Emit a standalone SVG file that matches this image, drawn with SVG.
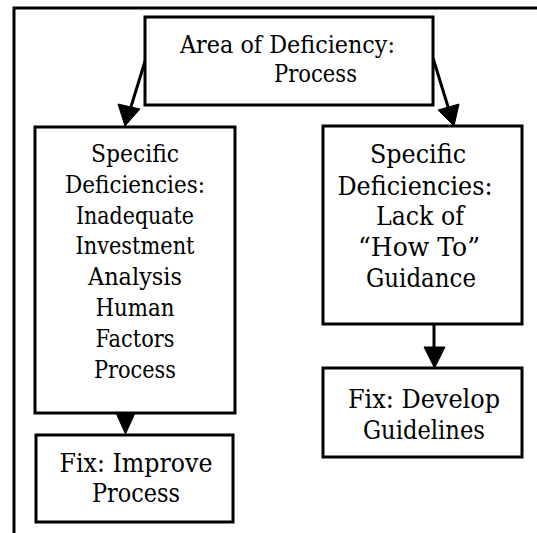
<svg xmlns="http://www.w3.org/2000/svg" width="537" height="533" viewBox="0 0 537 533">
<style>
.box{fill:#fff;stroke:#000;stroke-width:3}
.frame{fill:none;stroke:#000;stroke-width:3}
.t{font-family:'DejaVu Serif',serif;font-size:24.5px;fill:#000;text-anchor:middle}
.tb{font-family:'DejaVu Serif',serif;font-size:26.5px;fill:#000;text-anchor:middle}
.ln{stroke:#000;stroke-width:3;fill:none}
.ah{fill:#000;stroke:#000;stroke-width:1}
</style>
<rect width="537" height="533" fill="#fff"/>
<path class="frame" d="M14,533 V8 H537"/>
<g id="connectors">
<line class="ln" x1="146" y1="58" x2="130" y2="110"/>
<polygon class="ah" points="125,126 118,104 140,109"/>
<line class="ln" x1="433" y1="58" x2="449" y2="110"/>
<polygon class="ah" points="454,126 438,110 459,104"/>
<line class="ln" x1="434" y1="325" x2="434" y2="350"/>
<polygon class="ah" points="424,347 445,347 434.5,368"/>
<polygon class="ah" points="116,413 135,413 125.5,434"/>
</g>
<g id="top">
<rect class="box" x="145" y="17" width="288" height="88"/>
<text class="t" x="287.5" y="53" textLength="215" lengthAdjust="spacingAndGlyphs">Area of Deficiency:</text>
<text class="t" x="315.5" y="82" textLength="83" lengthAdjust="spacingAndGlyphs">Process</text>
</g>
<g id="left">
<rect class="box" x="35" y="127" width="200" height="286"/>
<text class="t" x="135" y="162" textLength="88" lengthAdjust="spacingAndGlyphs">Specific</text>
<text class="t" x="135" y="193" textLength="140" lengthAdjust="spacingAndGlyphs">Deficiencies:</text>
<text class="t" x="135" y="224" textLength="118" lengthAdjust="spacingAndGlyphs">Inadequate</text>
<text class="t" x="135" y="254" textLength="119" lengthAdjust="spacingAndGlyphs">Investment</text>
<text class="t" x="135" y="285" textLength="94" lengthAdjust="spacingAndGlyphs">Analysis</text>
<text class="t" x="135" y="316" textLength="79" lengthAdjust="spacingAndGlyphs">Human</text>
<text class="t" x="135" y="347" textLength="79" lengthAdjust="spacingAndGlyphs">Factors</text>
<text class="t" x="135" y="378" textLength="82" lengthAdjust="spacingAndGlyphs">Process</text>
</g>
<g id="right">
<rect class="box" x="323" y="126" width="199" height="198"/>
<text class="tb" x="418" y="163" textLength="96" lengthAdjust="spacingAndGlyphs">Specific</text>
<text class="tb" x="415" y="195" textLength="155" lengthAdjust="spacingAndGlyphs">Deficiencies:</text>
<text class="tb" x="420" y="225" textLength="88" lengthAdjust="spacingAndGlyphs">Lack of</text>
<text class="tb" x="419" y="256" textLength="122" lengthAdjust="spacingAndGlyphs">“How To”</text>
<text class="tb" x="421" y="287" textLength="110" lengthAdjust="spacingAndGlyphs">Guidance</text>
</g>
<g id="fix-left">
<rect class="box" x="36" y="435" width="197" height="87"/>
<text class="tb" x="136" y="472" textLength="153" lengthAdjust="spacingAndGlyphs">Fix: Improve</text>
<text class="tb" x="136" y="502" textLength="88" lengthAdjust="spacingAndGlyphs">Process</text>
</g>
<g id="fix-right">
<rect class="box" x="323" y="368" width="199" height="89"/>
<text class="tb" x="424" y="408" textLength="152" lengthAdjust="spacingAndGlyphs">Fix: Develop</text>
<text class="tb" x="424" y="439" textLength="122" lengthAdjust="spacingAndGlyphs">Guidelines</text>
</g>
</svg>
